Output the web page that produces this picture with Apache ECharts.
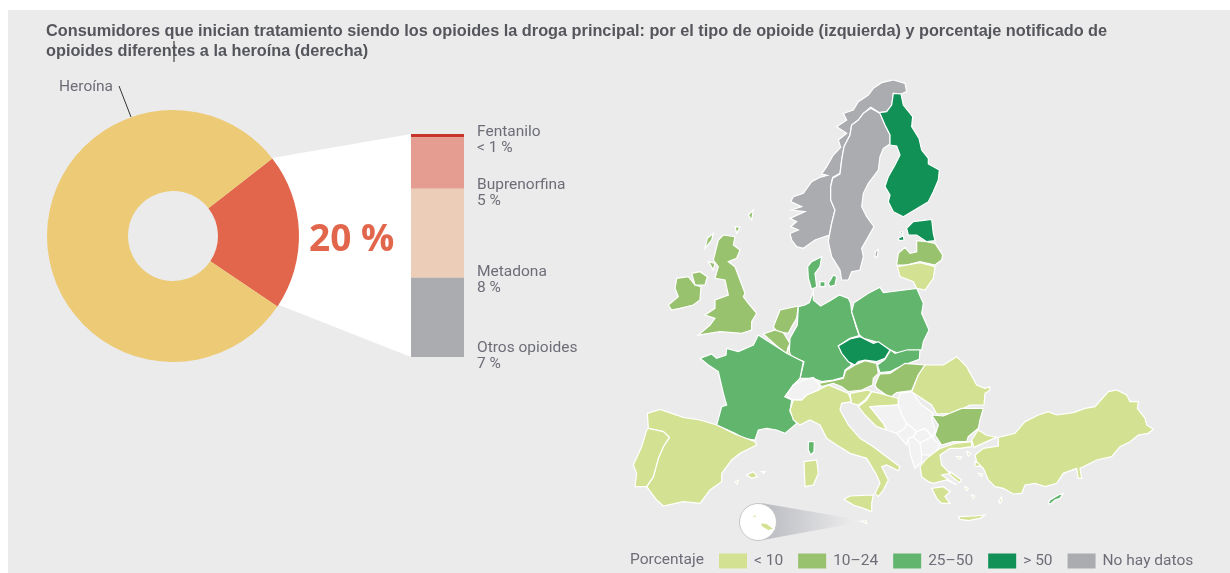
<!DOCTYPE html>
<html>
<head>
<meta charset="utf-8">
<script src="https://cdn.jsdelivr.net/npm/echarts@6/dist/echarts.min.js"></script>
<style>
    html, body { margin: 0; background: #fff; overflow: hidden; }
    #panel { position: absolute; left: 8px; top: 10px; width: 1222px; height: 563px; background: #ebebeb; }
    #chart { position: absolute; left: 0; top: 0; width: 1230px; height: 573px; }
</style>
</head>
<body>
<div id="panel"></div>
<div id="chart"></div>
<script>
const titleText = 'Consumidores que inician tratamiento siendo los opioides la droga principal: por el tipo de opioide (izquierda) y porcentaje notificado de\nopioides diferentes a la heroína (derecha)'

// donut
const donutNames = ['Otros opioides', 'Heroína']
const donutValues = [20, 80]

// column next to the donut, top to bottom
const opioidNames = ['Fentanilo', 'Buprenorfina', 'Metadona', 'Otros opioides']
const opioidLabels = ['< 1 %', '5 %', '8 %', '7 %']
const opioidValues = [0.3, 4.6, 8, 7.1]

// map classes
const classLabels = ['< 10', '10–24', '25–50', '> 50', 'No hay datos']
const classColors = ['#d3e292', '#99c26f', '#62b56d', '#129157', '#abacb0']
const noData = 999

const countries = ['Noruega', 'Suecia', 'Finlandia', 'Estonia', 'Letonia', 'Lituania', 'Dinamarca', 'Irlanda', 'Reino Unido',
    'Países Bajos', 'Bélgica', 'Luxemburgo', 'Alemania', 'Polonia', 'Chequia', 'Eslovaquia', 'Austria', 'Hungría', 'Rumanía',
    'Bulgaria', 'Francia', 'España', 'Portugal', 'Italia', 'Eslovenia', 'Croacia', 'Grecia', 'Turquía', 'Chipre', 'Malta', 'Córcega']
const percentages = [noData, noData, 62, 55, 15, 7, 30, 18, 20,
    17, 16, 8, 33, 35, 58, 30, 20, 18, 6,
    19, 37, 6, 5, 8, 7, 8, 7, 6, 32, 4, 32]

// shapes, each group in the units of one zoomed crop
const shift = (dx, dy, pts) => pts.map(p => [p[0] + dx, p[1] + dy])
const north = pts => pts
const south = pts => shift(0, 780, pts)
const east = pts => shift(840, 810, pts)
const mid = pts => shift(480, 600, pts)

const outlines = {
    'Noruega': [north([[550, 535], [530, 530], [515, 510], [510, 490], [535, 480], [512, 470], [530, 455], [510, 445], [555, 425], [515, 420], [545, 410], [512, 395], [520, 380], [550, 370], [575, 335], [600, 322], [622, 316], [605, 312], [620, 290], [640, 255], [662, 232], [655, 210], [680, 190], [650, 170], [680, 150], [670, 130], [700, 120], [715, 95], [745, 75], [760, 55], [785, 38], [820, 30], [855, 40], [860, 65], [843, 72], [820, 70], [815, 105], [800, 125], [778, 128], [752, 112], [730, 130], [715, 150], [695, 165], [690, 195], [672, 230], [665, 270], [660, 310], [638, 322], [632, 350], [632, 390], [645, 420], [635, 460], [628, 495], [585, 510]])],
    'Suecia': [north([[660, 312], [638, 325], [632, 350], [632, 390], [645, 420], [635, 460], [628, 497], [625, 515], [635, 560], [660, 600], [665, 630], [685, 630], [695, 605], [720, 600], [730, 560], [725, 535], [762, 470], [740, 440], [725, 410], [730, 370], [745, 340], [775, 300], [780, 260], [790, 235], [810, 222], [810, 195], [795, 165], [780, 130], [752, 115], [730, 130], [715, 150], [695, 165], [690, 195], [672, 230], [665, 270]]),
        north([[766, 545], [775, 538], [772, 560], [765, 562]])],
    'Finlandia': [north([[820, 70], [843, 72], [850, 105], [878, 140], [875, 170], [897, 205], [905, 240], [925, 265], [925, 282], [958, 300], [955, 330], [940, 365], [925, 395], [900, 410], [875, 425], [850, 440], [820, 425], [805, 395], [810, 375], [795, 350], [805, 320], [825, 285], [840, 255], [830, 228], [810, 225], [810, 195], [795, 165], [780, 130], [752, 112], [778, 128], [800, 125], [815, 105]])],
    'Estonia': [north([[880, 455], [935, 448], [940, 490], [945, 512], [920, 515], [890, 495], [865, 495], [860, 475]]),
        north([[835, 505], [850, 497], [852, 510], [838, 512]]),
        north([[840, 487], [848, 485], [848, 492]])],
    'Letonia': [north([[830, 585], [835, 550], [855, 532], [870, 550], [890, 545], [890, 512], [920, 515], [945, 520], [968, 555], [965, 570], [945, 585], [900, 575], [860, 585]])],
    'Lituania': [north([[832, 590], [900, 578], [945, 590], [940, 625], [915, 660], [890, 655], [880, 635], [840, 620]])],
    'Dinamarca': [north([[605, 560], [600, 590], [585, 610], [590, 650], [575, 658], [565, 625], [563, 590], [575, 575]]),
        north([[625, 640], [640, 615], [650, 620], [645, 645], [630, 650]]),
        north([[600, 635], [615, 635], [615, 650], [600, 650]])],
    'Irlanda': [north([[170, 625], [205, 620], [225, 645], [243, 650], [240, 690], [220, 705], [180, 715], [155, 720], [145, 705], [175, 680], [165, 655]])],
    'Reino Unido': [north([[310, 495], [345, 500], [340, 525], [360, 540], [350, 565], [325, 575], [345, 590], [375, 670], [370, 680], [385, 700], [410, 730], [395, 755], [395, 780], [365, 790], [300, 785], [235, 795], [270, 765], [285, 745], [255, 735], [285, 715], [285, 690], [325, 675], [315, 630], [285, 625], [295, 590], [280, 570], [295, 510]]),
        north([[215, 610], [240, 605], [262, 620], [255, 645], [225, 645]]),
        north([[262, 505], [280, 490], [275, 510], [255, 535]]),
        north([[385, 435], [400, 420], [395, 450]]),
        north([[345, 470], [360, 472], [350, 490]]),
        north([[265, 575], [285, 580], [280, 600]])],
    'Países Bajos': [north([[460, 770], [480, 720], [535, 708], [530, 745], [515, 770], [505, 790], [470, 785]])],
    'Bélgica': [south([[430, 12], [465, 0], [490, 8], [510, 40], [503, 55], [500, 72], [470, 48], [445, 25]])],
    'Luxemburgo': [south([[505, 55], [515, 62], [513, 77], [500, 73]])],
    'Alemania': [mid([[100, 65], [100, 90], [122, 108], [150, 92], [178, 75], [205, 85], [212, 100], [215, 125], [228, 170], [238, 197], [210, 205], [175, 228], [190, 250], [215, 285], [195, 300], [190, 322], [160, 330], [125, 335], [100, 325], [60, 325], [72, 275], [35, 262], [28, 245], [30, 205], [52, 165], [55, 110], [75, 105], [88, 98]])],
    'Polonia': [mid([[222, 98], [265, 70], [300, 52], [310, 68], [410, 55], [430, 100], [425, 130], [447, 180], [430, 215], [425, 240], [385, 240], [355, 250], [330, 240], [298, 222], [285, 215], [250, 205], [238, 195], [228, 165], [215, 125]])],
    'Chequia': [mid([[175, 228], [210, 207], [240, 200], [280, 220], [295, 215], [330, 240], [315, 265], [290, 275], [255, 270], [235, 275], [225, 285], [205, 275], [185, 250]])],
    'Eslovaquia': [mid([[332, 240], [345, 250], [380, 240], [420, 240], [418, 268], [385, 280], [350, 295], [330, 305], [300, 308], [292, 285], [315, 268]])],
    'Austria': [mid([[225, 285], [255, 272], [290, 280], [295, 310], [280, 325], [278, 345], [245, 360], [205, 365], [185, 350], [160, 340], [125, 350], [115, 340], [160, 332], [190, 325], [197, 302]])],
    'Hungría': [mid([[300, 312], [330, 310], [375, 280], [435, 285], [415, 315], [395, 362], [350, 368], [330, 383], [290, 355], [285, 345], [295, 320]])],
    'Rumanía': [mid([[435, 285], [490, 285], [530, 260], [560, 290], [590, 345], [615, 355], [630, 350], [628, 362], [615, 370], [612, 405], [570, 405], [520, 430], [470, 432], [455, 405], [395, 365], [415, 315]])],
    'Bulgaria': [east([[95, 225], [130, 228], [185, 205], [250, 205], [240, 240], [235, 265], [205, 290], [200, 305], [160, 305], [125, 315], [105, 285], [115, 255]])],
    'Francia': [south([[240, 85], [275, 72], [290, 85], [318, 75], [320, 55], [355, 65], [400, 45], [415, 15], [470, 50], [500, 70], [550, 95], [540, 145], [520, 165], [495, 200], [515, 210], [510, 245], [530, 280], [495, 310], [470, 300], [440, 295], [415, 300], [405, 330], [370, 325], [345, 310], [290, 285], [305, 230], [320, 225], [310, 190], [295, 125], [265, 105]])],
    'Córcega': [south([[565, 335], [583, 335], [582, 365], [572, 375], [565, 360]])],
    'España': [south([[82, 250], [120, 238], [190, 262], [240, 270], [290, 285], [345, 312], [405, 335], [410, 345], [360, 370], [335, 390], [305, 430], [305, 455], [270, 480], [240, 520], [190, 515], [130, 528], [110, 510], [80, 470], [100, 440], [115, 385], [130, 350], [148, 322], [130, 305], [85, 295]]),
        south([[380, 435], [400, 425], [412, 440], [395, 445]]),
        south([[425, 425], [435, 425], [432, 430]]),
        south([[345, 455], [355, 450], [352, 462]])],
    'Portugal': [south([[85, 295], [130, 305], [148, 322], [130, 350], [115, 385], [100, 440], [80, 470], [45, 470], [50, 430], [40, 405], [65, 350], [80, 300]])],
    'Italia': [south([[510, 240], [520, 210], [545, 210], [560, 195], [595, 180], [625, 165], [650, 175], [685, 190], [695, 215], [665, 220], [660, 240], [685, 285], [720, 325], [760, 350], [780, 365], [800, 380], [840, 410], [835, 422], [800, 405], [785, 410], [805, 450], [790, 480], [775, 500], [765, 490], [780, 460], [770, 435], [740, 385], [690, 370], [650, 345], [620, 325], [600, 285], [570, 270], [540, 285], [520, 270]]),
        south([[672, 508], [690, 498], [760, 495], [755, 520], [755, 545], [730, 535], [700, 525]]),
        south([[552, 395], [590, 390], [595, 430], [580, 465], [555, 470]])],
    'Eslovenia': [south([[690, 190], [745, 180], [755, 185], [735, 210], [715, 225], [695, 220]])],
    'Croacia': [south([[755, 185], [780, 190], [835, 205], [835, 225], [750, 230], [790, 280], [800, 300], [770, 290], [735, 255], [715, 230], [740, 210]])],
    'Suiza': [south([[495, 200], [520, 165], [550, 150], [580, 142], [600, 165], [595, 180], [560, 195], [545, 210], [520, 208]])],
    'Serbia': [south([[835, 205], [840, 190], [875, 185], [905, 225], [940, 250], [935, 265], [945, 300], [940, 320], [915, 295], [890, 305], [860, 280], [845, 255], [835, 225]])],
    'Bosnia y Herzegovina': [south([[750, 230], [835, 225], [845, 255], [860, 280], [855, 295], [830, 310], [800, 300], [790, 280]])],
    'Montenegro': [south([[830, 310], [855, 295], [860, 280], [890, 305], [880, 320], [865, 325], [860, 345]])],
    'Kosovo': [south([[890, 305], [915, 295], [935, 320], [900, 340], [880, 320]])],
    'Macedonia del Norte': [south([[900, 340], [935, 320], [960, 345], [940, 375], [905, 375]])],
    'Albania': [south([[865, 325], [880, 320], [900, 340], [905, 375], [905, 395], [885, 415], [870, 370]])],
    'Grecia': [east([[60, 380], [80, 355], [120, 325], [165, 310], [215, 305], [215, 320], [180, 325], [150, 325], [120, 345], [125, 375], [150, 400], [125, 405], [170, 435], [140, 420], [100, 430], [85, 425], [65, 410]]),
        east([[95, 445], [130, 440], [150, 455], [135, 470], [150, 490], [125, 490], [110, 475]]),
        east([[175, 530], [225, 528], [255, 525], [240, 535], [205, 542], [180, 538]]),
        east([[296, 485], [304, 472], [306, 480], [300, 490]]),
        east([[150, 395], [185, 420], [178, 428], [150, 405]]),
        east([[225, 365], [240, 370], [238, 380], [225, 378]]),
        east([[235, 400], [248, 402], [245, 410]]),
        east([[195, 440], [205, 445], [200, 452]]),
        east([[215, 465], [225, 468], [220, 475]]),
        east([[170, 350], [185, 350], [180, 358]]),
        east([[200, 335], [212, 340], [205, 348]])],
    'Turquía': [east([[215, 300], [235, 270], [258, 285], [290, 292], [260, 305], [222, 322]]),
        east([[295, 292], [345, 280], [375, 245], [415, 225], [445, 215], [470, 225], [520, 218], [555, 205], [585, 200], [625, 155], [650, 150], [680, 165], [690, 185], [715, 185], [712, 205], [735, 235], [740, 255], [760, 268], [745, 280], [715, 285], [690, 305], [660, 320], [635, 350], [590, 360], [550, 380], [540, 385], [545, 415], [535, 415], [530, 385], [490, 400], [470, 430], [435, 440], [405, 430], [375, 435], [365, 460], [340, 462], [310, 445], [285, 440], [265, 420], [250, 385], [230, 365], [225, 345], [250, 325], [295, 318]])],
    'Chipre': [east([[445, 490], [450, 480], [475, 465], [490, 460], [480, 475], [465, 480], [452, 492]])],
    'Malta': [south([[420, 578], [440, 580], [462, 597], [445, 602], [425, 590]]),
        south([[395, 556], [408, 555], [412, 562], [400, 562]]),
        south([[725, 574], [738, 572], [740, 581]])]
}

const europe = {
    type: 'FeatureCollection',
    features: Object.keys(outlines).map(name => ({
        type: 'Feature',
        properties: { name: name },
        geometry: {
            type: 'MultiPolygon',
            coordinates: outlines[name].map(ring => [ring.map(p => [p[0], -p[1]])])
        }
    }))
}
echarts.registerMap('europe', europe)

const myChart = echarts.init(document.getElementById('chart'))

const opioidColors = ['#c8332a', '#e59c91', '#eccdb7', '#abacb0']
const labelGaps = [-10, 40, 75, 62]
const labelColor = '#6d6d78'
const textFont = 'Roboto'
const textSize = 15.5

let series = [{
    type: 'pie',
    center: [173, 236],
    radius: [45, 126],
    startAngle: 38,
    clockwise: true,
    silent: true,
    label: { show: false },
    labelLine: { show: false },
    data: donutNames.map((n, i) => ({
        name: n,
        value: donutValues[i],
        itemStyle: { color: i === 0 ? '#e2664b' : '#edcb76' }
    }))
}]

opioidNames.forEach((n, i) => {
    series.push({
        name: n,
        type: 'bar',
        stack: 'opioids',
        barWidth: '100%',
        silent: true,
        itemStyle: { color: opioidColors[i] },
        label: {
            show: true,
            position: [66, labelGaps[i]],
            formatter: n + '\n' + opioidLabels[i],
            color: labelColor,
            fontFamily: textFont,
            fontSize: textSize,
            lineHeight: 16
        },
        data: [opioidValues[i]]
    })
})

series.push({
    type: 'map',
    map: 'europe',
    roam: false,
    silent: true,
    left: 620,
    top: 70,
    width: 600,
    height: 500,
    aspectScale: 1,
    boundingCoords: [[0, 0], [1800, -1500]],
    label: { show: false },
    itemStyle: { areaColor: '#f2f2f2', borderColor: '#ffffff', borderWidth: 1.2 },
    data: countries.map((c, i) => ({ name: c, value: percentages[i] }))
})

const option = {
    animation: false,
    title: {
        text: titleText,
        left: 46,
        top: 22,
        padding: 0,
        textStyle: { color: '#55565c', fontFamily: 'Liberation Sans', fontWeight: 'bold', fontSize: 16.3, lineHeight: 20 }
    },
    grid: { left: 411, top: 134, width: 53, height: 223 },
    xAxis: { type: 'category', show: false, data: [''] },
    yAxis: { type: 'value', show: false, inverse: true, min: 0, max: 20 },
    visualMap: {
        type: 'piecewise',
        seriesIndex: 5,
        orient: 'horizontal',
        left: 719,
        top: 553,
        padding: 0,
        itemWidth: 28,
        itemHeight: 15,
        itemGap: 15,
        itemSymbol: 'rect',
        textGap: 7,
        selectedMode: false,
        hoverLink: false,
        textStyle: { color: labelColor, fontFamily: textFont, fontSize: textSize },
        pieces: [
            { min: 0, max: 9.99, label: classLabels[0], color: classColors[0] },
            { min: 10, max: 24.99, label: classLabels[1], color: classColors[1] },
            { min: 25, max: 50, label: classLabels[2], color: classColors[2] },
            { min: 50.01, max: 100, label: classLabels[3], color: classColors[3] },
            { value: noData, label: classLabels[4], color: classColors[4] }
        ]
    },
    graphic: [
        { type: 'polygon', shape: { points: [[272, 158], [411, 134], [411, 357], [279, 305], [250, 232]] }, style: { fill: '#ffffff' } },
        { type: 'line', shape: { x1: 119, y1: 86, x2: 131, y2: 117 }, style: { stroke: '#333333', lineWidth: 1 } },
        { type: 'line', shape: { x1: 174, y1: 41, x2: 174, y2: 62 }, style: { stroke: '#222222', lineWidth: 1 } },
        { type: 'text', style: { x: 59, y: 87, text: donutNames[1], fill: labelColor, font: textSize + 'px ' + textFont, textVerticalAlign: 'middle' } },
        { type: 'text', style: { x: 309, y: 240, text: donutValues[0] + ' %', fill: '#e2664b', font: 'bold 37px "Open Sans"', textVerticalAlign: 'middle' } },
        { type: 'text', style: { x: 630, y: 560, text: 'Porcentaje', fill: labelColor, font: textSize + 'px ' + textFont, textVerticalAlign: 'middle' } },
        {
            type: 'polygon',
            shape: { points: [[761, 503], [866, 521], [763, 540]] },
            style: {
                fill: {
                    type: 'linear', x: 0, y: 0, x2: 1, y2: 0,
                    colorStops: [{ offset: 0, color: '#b9bac0' }, { offset: 1, color: '#f2f2f2' }]
                }
            }
        },
        { type: 'circle', shape: { cx: 758, cy: 522, r: 18.5 }, style: { fill: '#ffffff', stroke: '#c4c5c8', lineWidth: 1 } }
    ],
    series: series
}

myChart.setOption(option)
</script>
</body>
</html>
